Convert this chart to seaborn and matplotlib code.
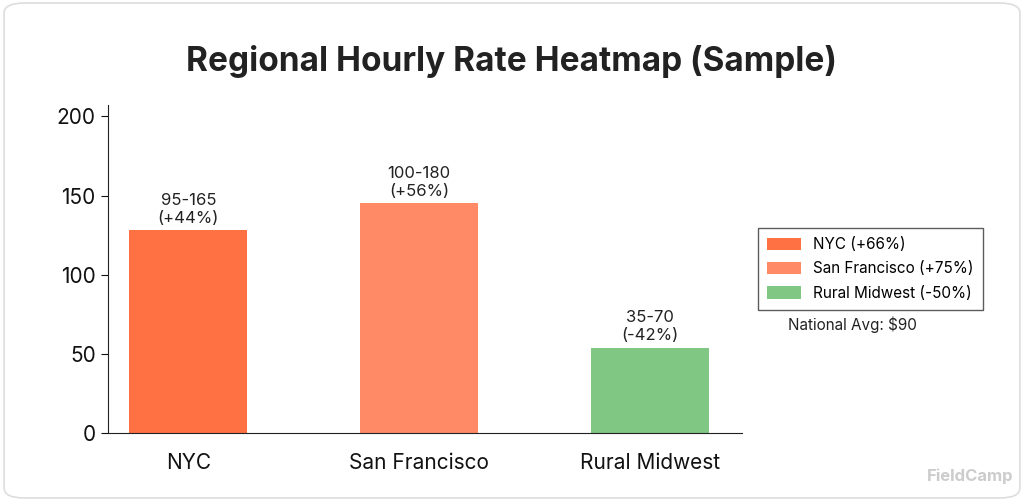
import matplotlib
matplotlib.use("Agg")
import matplotlib.pyplot as plt
import seaborn as sb
import pandas as pd
from matplotlib.patches import FancyBboxPatch, Patch

regions = ["NYC", "San Francisco", "Rural Midwest"]
values = [128, 145, 54]
labels = ["95-165\n(+44%)", "100-180\n(+56%)", "35-70\n(-42%)"]
legend_labels = ["NYC (+66%)", "San Francisco (+75%)", "Rural Midwest (-50%)"]
colors = ["#FF7043", "#FF8A65", "#81C784"]
yticks = [0, 50, 100, 150, 200]

plt.rcParams["font.family"] = "Inter"
fig = plt.figure(figsize=(10.24, 5.01), dpi=100)
fig.patches.append(FancyBboxPatch((0.004, 0.006), 0.992, 0.988, boxstyle="round,pad=0,rounding_size=0.02",
                                  transform=fig.transFigure, fc="white", ec="#dddddd", lw=1.2, zorder=-10))
ax = fig.add_axes([0.105, 0.135, 0.62, 0.655])
ax.patch.set_alpha(0)

df = pd.DataFrame({"region": regions, "value": values})
sb.barplot(data=df, x="region", y="value", hue="region", palette=colors, width=0.51,
           saturation=1, legend=False, ax=ax)
for i, (v, t) in enumerate(zip(values, labels)):
    ax.text(i, v + 3, t, ha="center", va="bottom", fontsize=12, color="#222222", linespacing=1.25)

ax.set_xlim(-0.35, 2.4)
ax.set_ylim(0, 207)
ax.set_yticks(yticks)
ax.set_xlabel("")
ax.set_ylabel("")
ax.tick_params(axis="both", labelsize=15, colors="#111111", length=5)
ax.tick_params(axis="x", length=0, pad=14)
for s in ["top", "right"]:
    ax.spines[s].set_visible(False)
for s in ["left", "bottom"]:
    ax.spines[s].set_color("#222222")

fig.text(0.5, 0.877, "Regional Hourly Rate Heatmap (Sample)", ha="center", va="center",
         fontsize=24, fontweight="bold", color="#222222")

handles = [Patch(facecolor=c, label=l) for c, l in zip(colors, legend_labels)]
leg = fig.legend(handles=handles, loc="upper left", bbox_to_anchor=(0.733, 0.56), fontsize=11,
                 frameon=True, fancybox=False, edgecolor="#333333", handlelength=2.2,
                 handleheight=0.9, borderpad=0.6, labelspacing=0.6)
leg.get_frame().set_linewidth(1.0)
fig.text(0.77, 0.352, "National Avg: $90", fontsize=11, color="#222222", va="center")
fig.text(0.905, 0.05, "FieldCamp", fontsize=12, color="#cccccc", va="center", fontweight="bold")

fig.savefig("out.png", dpi=100)
